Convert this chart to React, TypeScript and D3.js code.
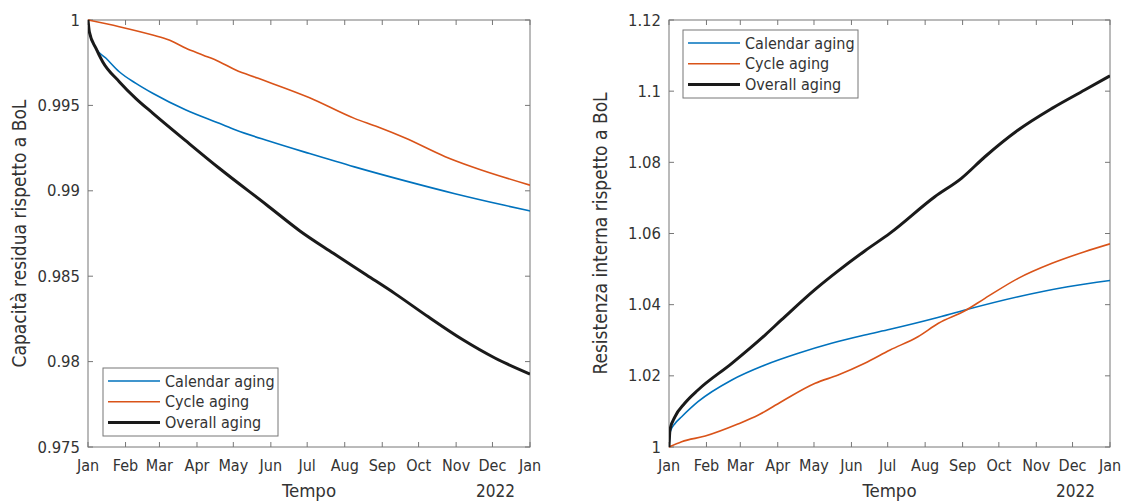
import * as d3 from "d3";

const monthLabels = ["Jan", "Feb", "Mar", "Apr", "May", "Jun", "Jul", "Aug", "Sep", "Oct", "Nov", "Dec", "Jan"];
const capTicks = [0.975, 0.98, 0.985, 0.99, 0.995, 1];
const resTicks = [1, 1.02, 1.04, 1.06, 1.08, 1.1, 1.12];
const legendNames = ["Calendar aging", "Cycle aging", "Overall aging"];

// days since 1 Jan 2021
const capCalendarDays = [0, 1.1, 6.6, 14.9, 25.8, 39.6, 53.4, 80.9, 108.4, 122, 150, 183, 220, 262, 303, 344, 365];
const capCalendarValues = [1, 0.99931, 0.99834, 0.99776, 0.99697, 0.99629, 0.99571, 0.99473, 0.99395, 0.99356, 0.9929, 0.99218, 0.9914, 0.99058, 0.98983, 0.98915, 0.98882];

const capCycleDays = [0, 25.8, 53.4, 67, 80.9, 94.7, 108.4, 122, 140, 183, 220, 239, 262, 295, 317, 365];
const capCycleValues = [1, 0.99961, 0.99912, 0.99883, 0.99834, 0.99795, 0.99756, 0.99707, 0.9966, 0.99545, 0.99424, 0.99375, 0.99309, 0.992, 0.99141, 0.99033];

const capOverallDays = [0, 1.1, 6.6, 12.1, 25.8, 39.6, 53.4, 80.9, 108.4, 147.6, 175, 202.6, 230, 253.5, 281, 308.6, 336, 365];
const capOverallValues = [1, 0.99931, 0.99834, 0.99756, 0.99639, 0.9954, 0.99455, 0.99292, 0.99132, 0.98917, 0.98765, 0.98634, 0.98507, 0.98398, 0.98262, 0.98132, 0.98021, 0.97927];

const resCalendarDays = [0, 1, 5, 10.5, 24, 52, 79.5, 107, 134.5, 162, 183, 220, 245, 289, 330, 365];
const resCalendarValues = [1, 1.0043, 1.0066, 1.00851, 1.01273, 1.01883, 1.02304, 1.02633, 1.02914, 1.03147, 1.03307, 1.03616, 1.0385, 1.04223, 1.04504, 1.0468];

const resCycleDays = [0, 10.5, 30, 57, 74, 93, 121, 140, 162, 183, 206, 223, 245, 261.5, 289, 317, 344, 365];
const resCycleValues = [1, 1.00149, 1.00309, 1.00646, 1.00899, 1.01273, 1.0179, 1.02023, 1.02352, 1.02726, 1.03099, 1.03476, 1.0383, 1.04178, 1.0474, 1.05162, 1.05488, 1.0571];

const resOverallDays = [0, 0.8, 5, 13, 24, 52, 79.5, 93, 121, 140, 162, 183, 220, 242, 261.5, 289, 317, 344, 365];
const resOverallValues = [1, 1.00478, 1.00851, 1.01228, 1.01602, 1.02352, 1.03147, 1.0357, 1.0443, 1.0495, 1.0551, 1.0601, 1.07033, 1.0755, 1.08157, 1.08908, 1.09517, 1.10032, 1.1043];

const start = new Date(2021, 0, 1);
const toDate = (d: number) => new Date(start.getTime() + d * 86400000);
const zip = (days: number[], vals: number[]) => days.map((d, i) => ({ date: toDate(d), value: vals[i] }));

const colors = ["#0072BD", "#D95319", "#1a1a1a"];
const widths = [1.6, 1.6, 3];
const font = "'Liberation Sans Narrow', 'DejaVu Sans Condensed', sans-serif";
const textColor = "#333";
const boxColor = "#777";

type Pt = { date: Date; value: number };

type PanelProps = {
  left: number;
  right: number;
  top: number;
  bottom: number;
  domain: [number, number];
  ticks: number[];
  tickFmt: (v: number) => string;
  yLabel: string;
  series: Pt[][];
  legend: { x: number; y: number };
};

function Panel({ left, right, top, bottom, domain, ticks, tickFmt, yLabel, series, legend }: PanelProps) {
  const x = d3.scaleTime().domain([start, new Date(2022, 0, 1)]).range([left, right]);
  const y = d3.scaleLinear().domain(domain).range([bottom, top]);
  const months = d3.timeMonth.range(start, new Date(2022, 0, 2));
  const lineGen = d3
    .line<Pt>()
    .x((d) => x(d.date))
    .y((d) => y(d.value))
    .curve(d3.curveMonotoneX);
  const tl = 5;
  const lw = 175;
  const lh = 68;

  return (
    <g fontFamily={font} fill={textColor}>
      <defs>
        <clipPath id={`clip-${left}`}>
          <rect x={left} y={top - 2} width={right - left} height={bottom - top + 4} />
        </clipPath>
      </defs>
      <rect x={left} y={top} width={right - left} height={bottom - top} fill="white" stroke={boxColor} strokeWidth={1} />
      {months.map((m, i) => (
        <g key={i}>
          <line x1={x(m)} x2={x(m)} y1={bottom} y2={bottom - tl} stroke={boxColor} />
          <line x1={x(m)} x2={x(m)} y1={top} y2={top + tl} stroke={boxColor} />
          <text x={x(m)} y={bottom + 24} textAnchor="middle" fontSize={16}>
            {monthLabels[i]}
          </text>
        </g>
      ))}
      {ticks.map((t, i) => (
        <g key={i}>
          <line x1={left} x2={left + tl} y1={y(t)} y2={y(t)} stroke={boxColor} />
          <line x1={right} x2={right - tl} y1={y(t)} y2={y(t)} stroke={boxColor} />
          <text x={left - 8} y={y(t) + 5.5} textAnchor="end" fontSize={16.5}>
            {tickFmt(t)}
          </text>
        </g>
      ))}
      <text x={(left + right) / 2} y={bottom + 50} textAnchor="middle" fontSize={18.5}>
        Tempo
      </text>
      <text x={right - 15} y={bottom + 50} textAnchor="end" fontSize={17}>
        2022
      </text>
      <text
        transform={`translate(${left - 62},${(top + bottom) / 2}) rotate(-90)`}
        textAnchor="middle"
        fontSize={19}
      >
        {yLabel}
      </text>
      <g clipPath={`url(#clip-${left})`}>
        {series.map((s, i) => (
          <path key={i} d={lineGen(s) ?? ""} fill="none" stroke={colors[i]} strokeWidth={widths[i]} strokeLinejoin="round" />
        ))}
      </g>
      <rect x={legend.x} y={legend.y} width={lw} height={lh} fill="white" stroke={boxColor} strokeWidth={1} />
      {legendNames.map((n, i) => {
        const ly = legend.y + 13 + i * 20.7;
        return (
          <g key={n}>
            <line x1={legend.x + 5} x2={legend.x + 57} y1={ly} y2={ly} stroke={colors[i]} strokeWidth={widths[i]} />
            <text x={legend.x + 62} y={ly + 5.5} fontSize={16}>
              {n}
            </text>
          </g>
        );
      })}
    </g>
  );
}

export default function App() {
  const capSeries = [
    zip(capCalendarDays, capCalendarValues),
    zip(capCycleDays, capCycleValues),
    zip(capOverallDays, capOverallValues),
  ];
  const resSeries = [
    zip(resCalendarDays, resCalendarValues),
    zip(resCycleDays, resCycleValues),
    zip(resOverallDays, resOverallValues),
  ];
  return (
    <svg
      width={1130}
      height={502}
      viewBox="0 0 1130 502"
      style={{ position: "absolute", left: 0, top: 0, background: "white" }}
    >
      <Panel
        left={88}
        right={530}
        top={20}
        bottom={447}
        domain={[0.975, 1]}
        ticks={capTicks}
        tickFmt={(v) => d3.format("")(+v.toFixed(3))}
        yLabel="Capacità residua rispetto a BoL"
        series={capSeries}
        legend={{ x: 103, y: 368 }}
      />
      <Panel
        left={669}
        right={1110}
        top={20}
        bottom={447}
        domain={[1, 1.12]}
        ticks={resTicks}
        tickFmt={(v) => d3.format("")(+v.toFixed(2))}
        yLabel="Resistenza interna rispetto a BoL"
        series={resSeries}
        legend={{ x: 683, y: 30 }}
      />
    </svg>
  );
}
